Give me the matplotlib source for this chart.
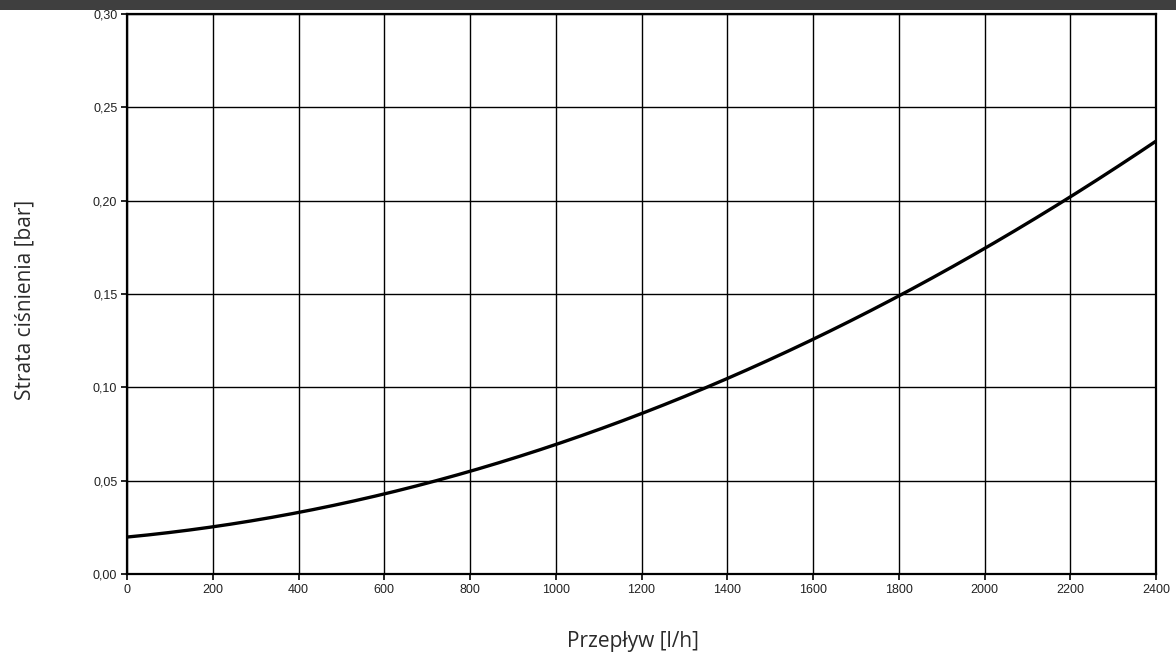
import matplotlib.pyplot as plt
from matplotlib.patches import Rectangle
from matplotlib.ticker import FuncFormatter
import numpy as np

plt.rcParams["font.family"] = ["Liberation Sans", "DejaVu Sans"]

# flow [l/h] vs pressure loss [bar]
flow = [0, 200, 400, 600, 800, 1000, 1200, 1400, 1600, 1800, 2000, 2200, 2400]
loss = [0.020, 0.025, 0.033, 0.043, 0.055, 0.069, 0.086, 0.105, 0.126, 0.149, 0.174, 0.202, 0.232]

x_ticks = list(range(0, 2401, 200))
y_ticks = [0.0, 0.05, 0.10, 0.15, 0.20, 0.25, 0.30]

fig = plt.figure(figsize=(11.76, 6.61), dpi=100)
ax = fig.add_axes([127 / 1176, 1 - 574 / 661, (1156 - 127) / 1176, (574 - 14) / 661])

# top dark bar
fig.patches.append(Rectangle((0, 1 - 10 / 661), 1, 10 / 661, transform=fig.transFigure,
                             facecolor="#3f3f3f", edgecolor="none", zorder=0))

# smooth the read points with a quadratic fit for display
coef = np.polyfit(flow, loss, 2)
xs = np.linspace(0, 2400, 300)
ax.plot(xs, np.polyval(coef, xs), color="black", linewidth=2.4, zorder=3)

ax.set_xlim(0, 2400)
ax.set_ylim(0, 0.30)
ax.set_xticks(x_ticks)
ax.set_yticks(y_ticks)
ax.yaxis.set_major_formatter(FuncFormatter(lambda v, _: f"{v:.2f}".replace(".", ",")))
ax.grid(True, color="black", linewidth=1.0)
ax.set_axisbelow(True)
for s in ax.spines.values():
    s.set_linewidth(1.6)
ax.tick_params(direction="out", length=4, width=1.2, labelsize=9, pad=3, labelcolor="#222222")

fig.text(633 / 1176, 1 - 642 / 661, "Przepływ [l/h]", ha="center", va="center",
         fontsize=15, family="Open Sans", color="#2a2a2a")
fig.text(25 / 1176, 1 - 300 / 661, "Strata ciśnienia [bar]", ha="center", va="center",
         rotation=90, fontsize=15, family="Open Sans", color="#2a2a2a")

fig.savefig("out.png", dpi=100)
